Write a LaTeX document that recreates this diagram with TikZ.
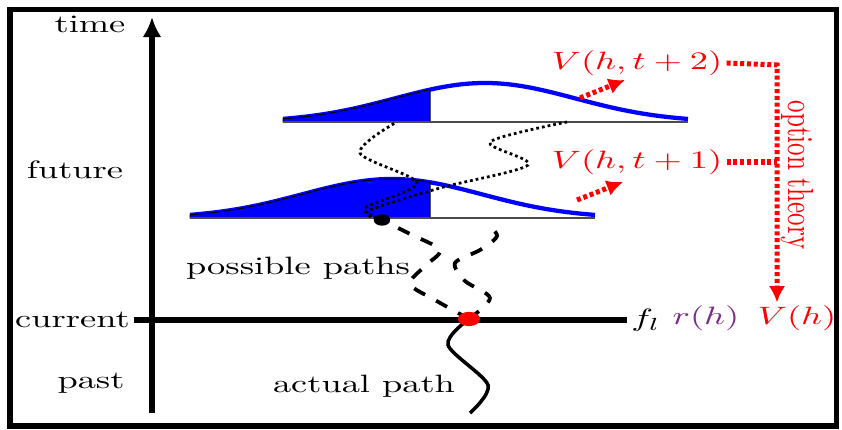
\documentclass[tikz,border=0pt]{standalone}
\usepackage{amsmath}
\usepackage{amssymb}
\usepackage{tikz}
\usetikzlibrary{calc,shapes,arrows,arrows.meta,shapes.geometric,positioning}
\definecolor{optred}{RGB}{255,0,0}
\definecolor{distblue}{RGB}{0,0,255}
\definecolor{ratepurple}{RGB}{125,40,140}

\begin{document}
\begin{tikzpicture}[x=0.014cm, y=-0.014cm,
			lbl/.style={xscale=1.45, inner sep=1pt},
			redlbl/.style={lbl, text=optred},
			axis/.style={line width=2.1pt},
			density/.style={distblue, line width=1.7pt},
			baseln/.style={black!70, line width=0.7pt},
			sim/.style={dash pattern=on 1.1pt off 1.2pt, line width=1.1pt},
			possible/.style={dash pattern=on 5pt off 5pt, line width=1.5pt},
			optline/.style={optred, dash pattern=on 1.6pt off 1.1pt, line width=2pt},
			optarr/.style={optline, -{Latex[length=6.5pt,width=6.5pt]}},
			dot/.style={ellipse, inner sep=0pt, minimum width=0.31cm, minimum height=0.2cm}]
			
			\useasboundingbox (0,0) rectangle (842,430);
			\draw[line width=2pt] (10,10) rectangle (836,426);
			
			% time axis and labels
			\draw[axis, -{Latex[length=8pt,width=7.5pt]}] (152,413) -- (152,17);
			\node[lbl] (time) at (90,24) {time};
			\node[lbl] (future) at (75,170) {future};
			\node[lbl] (past) at (91,383) {past};
			\node[lbl, anchor=east] (current) at (134,320) {current};
			\node[lbl, anchor=west] (fl) at (627,320) {$f_l$};
			\node[lbl, text=ratepurple] (rh) at (706,318) {$r(h)$};
			\node[redlbl] (vh) at (797,318) {$V(h)$};
			\draw[axis] (current.east) -- (fl.west);
			
			% distributions at t+2 and t+1
			\draw[density] plot[domain=283:688, samples=60, smooth] (\x,{122-39*exp(-((\x-485)/90)^2/2)});
			\filldraw[fill=distblue, draw=black, thin] (283,122) -- plot[domain=283:430, samples=30, smooth] (\x,{122-39*exp(-((\x-485)/90)^2/2)}) -- (430,122) -- cycle;
			\draw[baseln] (283,122) -- (688,122);
			\draw[density] plot[domain=190:595, samples=60, smooth] (\x,{218-39*exp(-((\x-392)/90)^2/2)});
			\filldraw[fill=distblue, draw=black, thin] (190,218) -- plot[domain=190:430, samples=30, smooth] (\x,{218-39*exp(-((\x-392)/90)^2/2)}) -- (430,218) -- cycle;
			\draw[baseln] (190,218) -- (595,218);
			
			% paths
			\coordinate (now) at (469,319);
			\coordinate (next) at (382,220);
			\draw[sim] plot[smooth] coordinates {(next) (365,208) (417,183) (360,153) (395,123)};
			\draw[sim] plot[smooth] coordinates {(next) (368,211) (440,188) (528,165) (490,142) (567,122)};
			\draw[possible] plot[smooth] coordinates {(now) (435,300) (410,284) (425,266) (440,250) (410,234) (next)};
			\draw[possible] plot[smooth] coordinates {(now) (490,298) (465,281) (455,263) (480,250) (497,236) (486,223)};
			\draw[line width=1.4pt] plot[smooth] coordinates {(now) (448,345) (488,385) (470,413)};
			\node[dot, fill=optred] (reddot) at (now) {};
			\node[dot, fill=black, minimum width=0.23cm, minimum height=0.16cm] (blackdot) at (next) {};
			\node[lbl] (possiblelbl) at (298,268) {possible paths};
			\node[lbl] (actuallbl) at (364,386) {actual path};
			
			% option values
			\node[redlbl] (vt2) at (637,63) {$V(h,t+2)$};
			\node[redlbl] (vt1) at (637,162) {$V(h,t+1)$};
			\coordinate (corner) at (777,65);
			\draw[optarr] (vt2.east) -- (corner) -- (corner |- vh.north);
			\draw[optline] (vt1.east) -- (vt1.east -| corner);
			\node[redlbl, rotate=-90] (option) at (797,175) {option theory};
			\coordinate (up2) at (580,98);
			\coordinate (up2end) at (625,80);
			\coordinate (up1) at (577,200);
			\coordinate (up1end) at (623,182);
			\draw[optarr] (up2) -- (up2end);
			\draw[optarr] (up1) -- (up1end);
		\end{tikzpicture}
\end{document}
